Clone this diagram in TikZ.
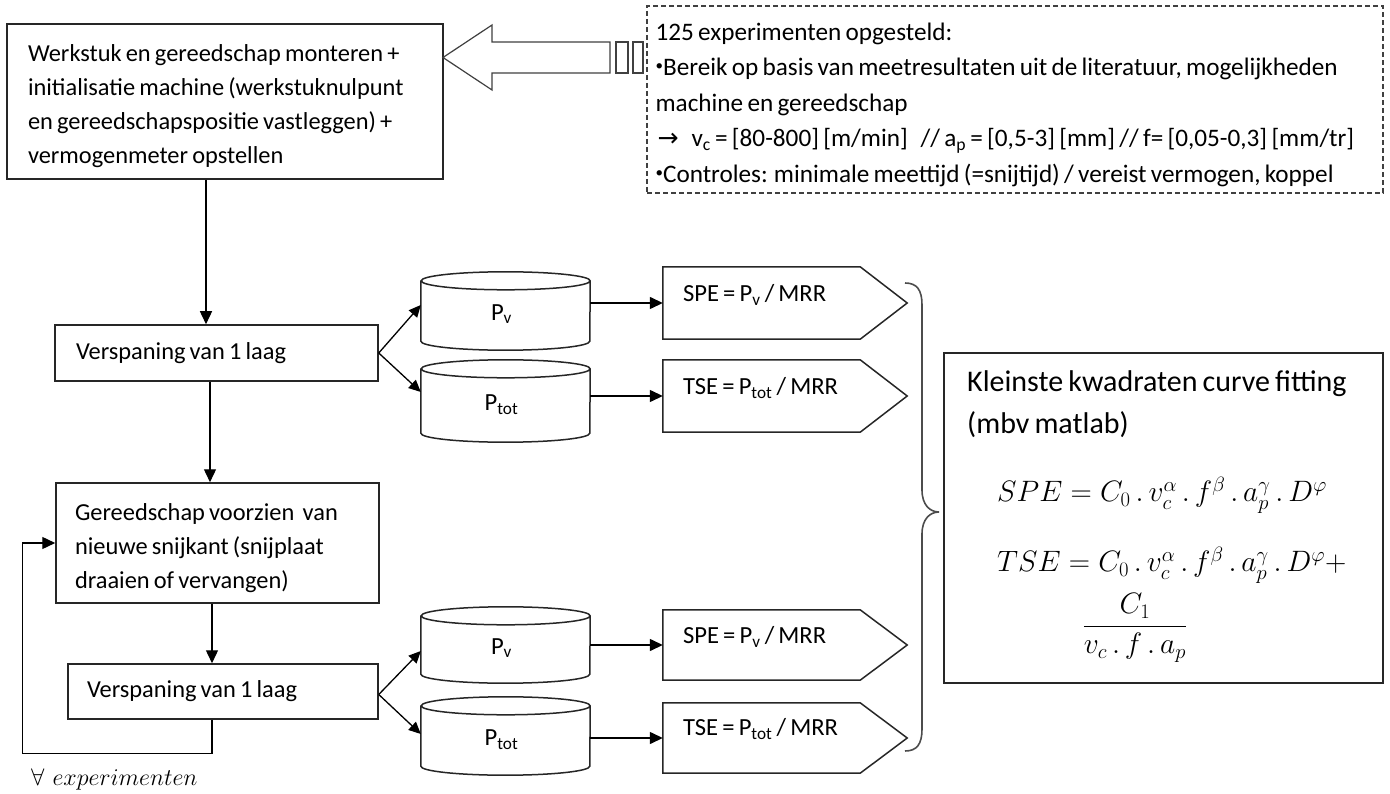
\documentclass[tikz,border=0pt]{standalone}
\usepackage{fix-cm}
\usepackage[no-math]{fontspec}
\setmainfont{Carlito}[WordSpace=0.75]
\newfontfamily\arrowfont{DejaVu Sans}
\usetikzlibrary{arrows.meta}

% drum (data store) outline around a placeholder node
\newcommand\drumshape[1]{%
  \draw[stroke, fill=white] ([yshift=-9pt]#1.north west) -- ([yshift=9pt]#1.south west)
    arc[start angle=180, end angle=360, x radius=84.5pt, y radius=9pt]
    -- ([yshift=-9pt]#1.north east)
    arc[start angle=0, end angle=360, x radius=84.5pt, y radius=9pt];}
% pentagon (pointing right) around a placeholder node
\newcommand\pentshape[1]{%
  \draw[stroke] (#1.north west) -- (#1.north east) -- ([xshift=47pt]#1.east)
    -- (#1.south east) -- (#1.south west) -- cycle;}
\newcommand\smallbullet{\raisebox{0.4ex}{\fontsize{15}{15}\selectfont\textbullet}}

\begin{document}
\begin{tikzpicture}[x=1pt,y=-1pt,
  stroke/.style={draw=black!85, line width=1.5pt},
  txt/.style={font=\fontsize{24.6}{34}\selectfont, inner sep=0pt},
  box/.style={stroke, rectangle, inner ysep=0pt, align=flush left, font=\fontsize{24.4}{34}\selectfont},
  hidden/.style={rectangle, inner sep=0pt},
  arr/.style={draw=black, line width=1.4pt, -{Triangle[length=13pt,width=12pt]}},
  darr/.style={draw=black, line width=1.3pt, -{Triangle[length=12pt,width=11pt]}},
  outline/.style={draw=black!75, line width=1.2pt},
  mathtxt/.style={inner sep=0pt, font=\fontsize{29.5}{34}\selectfont}
]
\useasboundingbox (0,0) rectangle (1390,794);

% set-up step
\node[box, minimum width=436pt, minimum height=155pt, text width=394pt, inner xsep=21pt] (top) at (225,101.5)
  {\rule{0pt}{27pt}Werkstuk en gereedschap monteren +\\ initialisatie machine (werkstuknulpunt\\ en gereedschapspositie vastleggen) +\\ vermogenmeter opstellen};

% experiment plan
\node[outline, rectangle, dash pattern=on 5pt off 3pt, minimum width=736pt, minimum height=187pt] (exp) at (1015,99.5) {};
\node[anchor=west, inner sep=0pt, align=left, font=\fontsize{25.2}{35.5}\selectfont] (expt) at ([xshift=9pt,yshift=-5pt]exp.west)
  {125 experimenten opgesteld:\\
   \smallbullet Bereik op basis van meetresultaten uit de literatuur, mogelijkheden\\
   machine en gereedschap\\
   \hspace*{2pt}{\arrowfont →}\ \ \ v\textsubscript{c} = [80-800] [m/min]\ \ \ // a\textsubscript{p} = [0,5-3] [mm]\ // f= [0,05-0,3]\ [mm/tr]\\
   \smallbullet Controles: minimale meettijd (=snijtijd) / vereist vermogen, koppel};

% block arrow with striped tail
\draw[outline, fill=white] (443,57.5) -- (492,25) -- (492,42) -- (610,42) -- (610,73) -- (492,73) -- (492,90) -- cycle;
\draw[outline] (616,42) rectangle (628,73);
\draw[outline] (633,42) rectangle (643,73);

% main flow
\node[box, minimum width=323pt, minimum height=56pt, text width=281pt, inner xsep=21pt] (v1) at (216.5,353) {Verspaning van 1 laag};
\node[box, minimum width=323pt, minimum height=120pt, text width=285pt, inner xsep=19pt] (ger) at (217.5,543)
  {\rule{0pt}{27pt}Gereedschap voorzien\ \ van\\ nieuwe snijkant (snijplaat\\ draaien of vervangen)};
\node[box, minimum width=310pt, minimum height=55pt, text width=272pt, inner xsep=19pt] (v2) at (223,691.5) {Verspaning van 1 laag};

\draw[arr] ([xshift=-19pt]top.south) -- ([xshift=-19pt]top.south |- v1.north);
\draw[arr] ([xshift=-6.5pt]v1.south) -- ([xshift=-6.5pt]v1.south |- ger.north);
\draw[arr] ([xshift=-5.5pt]ger.south) -- ([xshift=-5.5pt]ger.south |- v2.north);
\draw[arr] ([xshift=-11pt]v2.south) -- ++(0,34) -| ([xshift=-33pt]ger.west) -- (ger.west);

\node[anchor=west, inner sep=0pt, font=\fontsize{24}{28}\selectfont] (forall) at (31,779) {$\forall\hspace{8pt}experimenten$};

% measured powers
\node[hidden, minimum width=169pt, minimum height=78pt] (cv1) at (505.5,311) {};
\drumshape{cv1}
\node[txt] (cv1t) at ([xshift=-4pt,yshift=-3pt]cv1.center) {P\textsubscript{v}};
\node[hidden, minimum width=169pt, minimum height=82pt] (ct1) at (505.5,401) {};
\drumshape{ct1}
\node[txt] (ct1t) at ([xshift=-4pt,yshift=-4pt]ct1.center) {P\textsubscript{tot}};
\node[hidden, minimum width=169pt, minimum height=76pt] (cv2) at (505.5,645) {};
\drumshape{cv2}
\node[txt] (cv2t) at ([xshift=-4pt,yshift=-3pt]cv2.center) {P\textsubscript{v}};
\node[hidden, minimum width=169pt, minimum height=78pt] (ct2) at (505.5,736) {};
\drumshape{ct2}
\node[txt] (ct2t) at ([xshift=-4pt,yshift=-4pt]ct2.center) {P\textsubscript{tot}};

% specific energies
\node[hidden, minimum width=197pt, minimum height=72pt] (sp1) at (761.5,303) {};
\pentshape{sp1}
\node[txt, anchor=west] (sp1t) at ([xshift=20pt,yshift=8pt]sp1.west) {SPE = P\textsubscript{v}\ / MRR};
\node[hidden, minimum width=197pt, minimum height=72pt] (ts1) at (761.5,396) {};
\pentshape{ts1}
\node[txt, anchor=west] (ts1t) at ([xshift=20pt,yshift=8pt]ts1.west) {TSE = P\textsubscript{tot} / MRR};
\node[hidden, minimum width=197pt, minimum height=70pt] (sp2) at (761.5,645) {};
\pentshape{sp2}
\node[txt, anchor=west] (sp2t) at ([xshift=20pt,yshift=8pt]sp2.west) {SPE = P\textsubscript{v}\ / MRR};
\node[hidden, minimum width=197pt, minimum height=70pt] (ts2) at (761.5,738) {};
\pentshape{ts2}
\node[txt, anchor=west] (ts2t) at ([xshift=20pt,yshift=9pt]ts2.west) {TSE = P\textsubscript{tot} / MRR};

\draw[darr] (v1.east) -- ([yshift=6pt]cv1.west);
\draw[darr] (v1.east) -- ([yshift=9pt]ct1.west);
\draw[darr] ([yshift=-3pt]v2.east) -- ([yshift=-6pt]cv2.west);
\draw[darr] ([yshift=-3pt]v2.east) -- ([yshift=2pt]ct2.west);

\draw[arr] (sp1.west -| cv1.east) -- (sp1.west);
\draw[arr] (ts1.west -| ct1.east) -- (ts1.west);
\draw[arr] (sp2.west -| cv2.east) -- (sp2.west);
\draw[arr] (ts2.west -| ct2.east) -- (ts2.west);

% grouping brace
\draw[draw=black!70, line width=1.6pt] (905,283) .. controls (917,283) and (922,290) .. (922,305) -- (922,490)
  .. controls (922,505) and (930,512) .. (939,512) .. controls (930,512) and (922,519) .. (922,534)
  -- (922,729) .. controls (922,744) and (917,751) .. (905,751);

% curve fitting
\node[stroke, rectangle, minimum width=439pt, minimum height=330pt] (kk) at (1163.5,518) {};
\node[anchor=west, inner sep=0pt, align=left, font=\fontsize{30}{42}\selectfont] (kkt) at (967,404)
  {Kleinste kwadraten curve fitting\\(mbv matlab)};
\node[mathtxt, anchor=west] (f1) at (997,495)
  {$SPE = C_0\,.\,v_c^{\alpha}\,.\,f^{\beta}\,.\,a_p^{\gamma}\,.\,D^{\varphi}$};
\node[mathtxt, anchor=west] (f2) at (997,565)
  {$TSE = C_0\,.\,v_c^{\alpha}\,.\,f^{\beta}\,.\,a_p^{\gamma}\,.\,D^{\varphi} +$};
\node[mathtxt] (f3) at (1135,628)
  {$\displaystyle\frac{C_1}{v_c\,.\,f\,.\,a_p}$};
\end{tikzpicture}
\end{document}
